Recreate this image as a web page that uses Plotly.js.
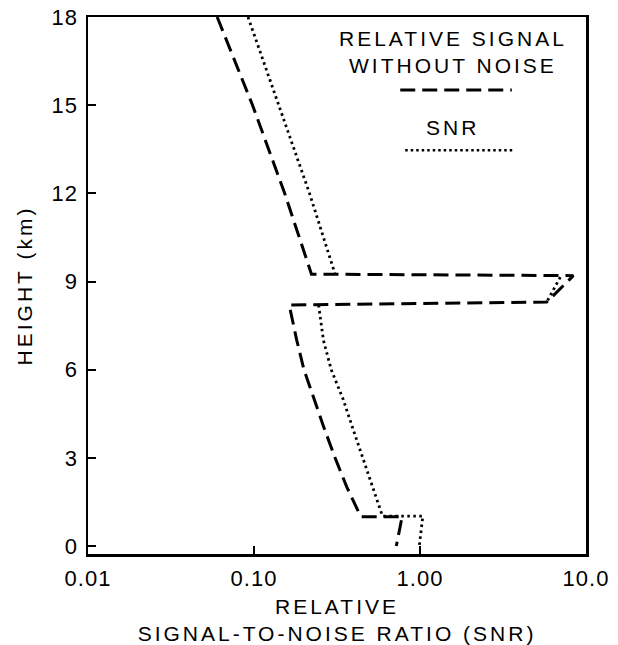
<!DOCTYPE html>
<html>
<head>
<meta charset="utf-8">
<script src="https://cdn.plot.ly/plotly-3.0.1.min.js"></script>
<style>
  html, body { margin: 0; padding: 0; background: #fff; }
  #chart { width: 618px; height: 645px; }
  .xtitle, .ytitle, .annotation-text { letter-spacing: 3px; }
  .xtick text, .ytick text { letter-spacing: 1px; }
</style>
</head>
<body>
<div id="chart"></div>
<script>
// Relative signal without noise (dashed)
const signalX = [0.060, 0.098, 0.153, 0.222, 8.4, 5.8, 0.163, 0.181, 0.200, 0.229, 0.265, 0.308, 0.363, 0.44, 0.78, 0.72];
const signalY = [18, 15, 12, 9.25, 9.2, 8.3, 8.2, 7, 6, 5, 4, 3, 2, 1.0, 1.0, 0];

// SNR (dotted); null breaks where the dotted path runs under the dashed one
const snrX = [0.092, 0.141, 0.216, 0.308, null, 7.0, 5.8, null, 0.245, 0.262, 0.292, 0.344, 0.394, 0.452, 0.519, 0.594, 1.04, 0.99];
const snrY = [18, 15, 12, 9.25, null, 9.15, 8.3, null, 8.2, 7, 6, 5, 4, 3, 2, 1.02, 1.02, 0];

const xTickVals = [0.01, 0.1, 1, 10];
const xTickText = ["0.01", "0.10", "1.00", "10.0"];
const yTickVals = [0, 3, 6, 9, 12, 15, 18];
const yTickText = ["0", "3", "6", "9", "12", "15", "18"];

const FONT = '"Liberation Sans", Arial, Helvetica, sans-serif';

const traces = [
  {
    x: snrX, y: snrY, type: 'scatter', mode: 'lines',
    name: 'SNR', connectgaps: false,
    line: { color: '#000', width: 2.8, dash: '2.5px,3.5px' },
    hoverinfo: 'skip'
  },
  {
    x: signalX, y: signalY, type: 'scatter', mode: 'lines',
    name: 'RELATIVE SIGNAL WITHOUT NOISE',
    line: { color: '#000', width: 3, dash: '15px,7px' },
    hoverinfo: 'skip'
  }
];

const layout = {
  width: 618, height: 645,
  margin: { l: 88, r: 32, t: 17, b: 91 },
  paper_bgcolor: '#fff', plot_bgcolor: '#fff',
  showlegend: false,
  font: { family: FONT, color: '#000', size: 21 },
  xaxis: {
    type: 'log', range: [-2, 1],
    tickvals: xTickVals, ticktext: xTickText,
    ticks: 'inside', ticklen: 8, tickwidth: 2, tickcolor: '#000',
    showline: true, linewidth: 2.5, linecolor: '#000', mirror: true,
    showgrid: false, zeroline: false,
    tickfont: { family: FONT, size: 22, color: '#000' },
    ticklabelstandoff: 3,
    title: { text: 'RELATIVE<br>SIGNAL-TO-NOISE RATIO (SNR)', font: { family: FONT, size: 21, color: '#000' }, standoff: 16 }
  },
  yaxis: {
    range: [-0.27, 18],
    tickvals: yTickVals, ticktext: yTickText,
    ticks: 'inside', ticklen: 8, tickwidth: 2, tickcolor: '#000',
    showline: true, linewidth: 2.5, linecolor: '#000', mirror: true,
    showgrid: false, zeroline: false,
    tickfont: { family: FONT, size: 22, color: '#000' },
    ticklabelstandoff: 3,
    title: { text: 'HEIGHT (km)', font: { family: FONT, size: 21, color: '#000' }, standoff: 14 }
  },
  annotations: [
    { xref: 'paper', yref: 'paper', x: 0.732, y: 0.934, text: 'RELATIVE SIGNAL<br>WITHOUT NOISE',
      showarrow: false, xanchor: 'center', yanchor: 'middle', align: 'center',
      font: { family: FONT, size: 21, color: '#000' } },
    { xref: 'paper', yref: 'paper', x: 0.731, y: 0.795, text: 'SNR',
      showarrow: false, xanchor: 'center', yanchor: 'middle',
      font: { family: FONT, size: 21, color: '#000' } }
  ],
  shapes: [
    { type: 'line', xref: 'paper', yref: 'paper', x0: 0.627, x1: 0.851, y0: 0.864, y1: 0.864,
      line: { color: '#000', width: 3, dash: '15px,7px' } },
    { type: 'line', xref: 'paper', yref: 'paper', x0: 0.637, x1: 0.855, y0: 0.752, y1: 0.752,
      line: { color: '#000', width: 2.5, dash: '2.5px,3px' } }
  ]
};

Plotly.newPlot('chart', traces, layout, { displayModeBar: false, staticPlot: true });
</script>
</body>
</html>
